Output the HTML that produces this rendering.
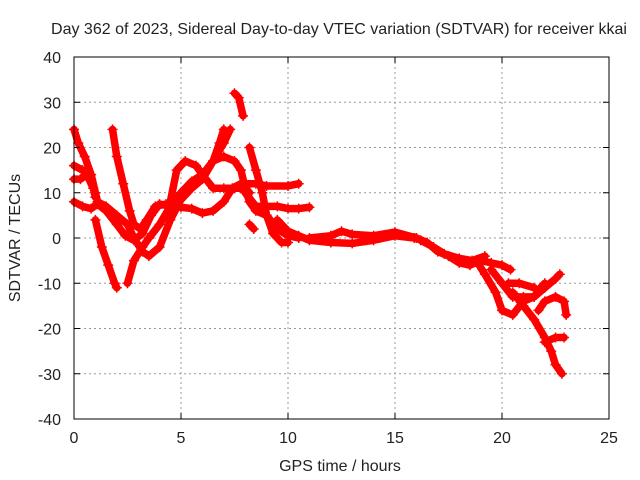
<!DOCTYPE html>
<html><head><meta charset="utf-8"><style>
body{margin:0;background:#fff}
svg{display:block;font-family:"Liberation Sans",sans-serif}
</style></head><body>
<svg id="chart" width="640" height="480" viewBox="0 0 640 480">
<rect width="640" height="480" fill="#fff"/>
<text x="339" y="34" font-size="16" text-anchor="middle" fill="#222">Day 362 of 2023, Sidereal Day-to-day VTEC variation (SDTVAR) for receiver kkai</text>
<g id="grid"></g>
<g id="series"></g>
<rect x="74" y="57" width="535" height="362" fill="none" stroke="#000" stroke-width="1"/>
<g id="ticks"></g>
<text x="340" y="471" font-size="16" text-anchor="middle" fill="#222">GPS time / hours</text>
<text transform="translate(20,238) rotate(-90)" font-size="16" text-anchor="middle" fill="#222">SDTVAR / TECUs</text>
</svg>
<script>
const xTicks=[0,5,10,15,20,25];
const yTicks=[-40,-30,-20,-10,0,10,20,30,40];
const track1=[[0,24],[0.2,21],[0.5,18],[0.8,14],[1,10],[1.1,8]];
const track2=[[0,13],[0.3,13],[0.6,14],[0.9,11],[1,9]];
const track3=[[0,16],[0.4,15],[0.8,13]];
const track4=[[0,8],[0.4,7],[0.8,6.5],[1.1,7.5],[1.5,6],[2,3],[2.4,0.5],[2.8,-0.5],[3.2,1],[3.6,5],[4,7.5],[4.5,7],[5,6.8],[5.5,6.5],[6,5.5],[6.5,6],[7,8],[7.4,11],[7.8,12],[8.5,12],[9,11.5],[10,11.5],[10.5,12]];
const track5=[[1.1,8],[1.5,7],[2,5],[2.5,3],[2.8,0],[3.2,-3],[3.5,-4],[4,-2],[4.5,4],[5,8.5],[5.5,11],[6,13],[6.5,17],[6.8,21],[7,24]];
const track6=[[1.8,24],[2,18],[2.3,12],[2.6,6],[2.8,3],[3.1,2],[3.4,4],[3.8,7],[4.3,7.5]];
const track7=[[1,4],[1.3,-2],[1.6,-6],[1.9,-10],[2,-11]];
const track8=[[2.5,-10],[2.8,-5],[3.2,-2],[3.5,0],[4,3],[4.5,7],[5,10],[5.5,12.5],[6,14],[6.5,17],[7,21],[7.3,24]];
const track9=[[4.5,8],[4.8,15],[5.2,17],[5.7,16],[6,14],[6.5,11],[7,11],[7.5,11],[8,11],[8.2,10]];
const track10=[[7.5,32],[7.7,31],[7.9,27]];
const track11=[[6.5,17],[7,18],[7.5,17],[7.8,15],[8,11],[8.2,8],[8.5,6],[9,5],[9.5,2],[10,0.5],[10.5,0]];
const track12=[[8.2,20],[8.5,15],[8.8,10],[9,5],[9.3,1],[9.7,-1],[10,-1]];
const track13=[[8,10],[8.5,7],[9,7],[9.5,7],[10,6.5],[10.5,6.5],[11,6.8]];
const track14=[[8.2,3],[8.4,2]];
const track15=[[9.5,4],[10,1.5],[10.5,0.5],[11,-0.5],[12,-1],[13,-1.2],[14,-0.5],[15,0.5],[15.9,0]];
const track16=[[11,0],[12,0.5],[12.5,1.5],[13,0.8],[14,0.5],[15,1.3],[16,0]];
const track17=[[16,0],[16.5,-1],[17,-3],[17.5,-4],[18,-5.5],[18.5,-6],[19,-5],[19.5,-5.5],[20,-6],[20.4,-7]];
const track18=[[18.8,-5],[19.2,-8],[19.7,-12],[20,-16],[20.5,-17],[21,-14],[21.5,-13],[22,-11],[22.5,-9],[22.7,-8]];
const track19=[[19.5,-7],[20,-10],[20.5,-13],[21,-13],[21.5,-13],[21.8,-11],[22,-10]];
const track20=[[20.5,-12],[21,-15],[21.5,-18],[22,-22],[22.3,-25],[22.5,-28],[22.8,-30]];
const track21=[[21.7,-16],[22,-14],[22.5,-13],[22.9,-14],[23,-17]];
const track22=[[22,-23],[22.5,-22],[22.9,-22]];
const track23=[[20.3,-10],[20.8,-10],[21.5,-11]];
const track24=[[16.2,-0.5],[16.8,-2],[17.3,-3.5],[18,-4.5],[18.6,-5],[19.2,-4]];
const tracks=[track1,track2,track3,track4,track5,track6,track7,track8,track9,track10,track11,track12,track13,track14,track15,track16,track17,track18,track19,track20,track21,track22,track23,track24];

const NS="http://www.w3.org/2000/svg";
const X0=74,X1=609,Y0=419,Y1=57;
function sx(t){return X0+(t-0)/(25-0)*(X1-X0);}
function sy(v){return Y0-(v+40)/80*(Y0-Y1);}
const grid=document.getElementById('grid'),ticks=document.getElementById('ticks'),series=document.getElementById('series');
function mk(tag,attrs,parent){const e=document.createElementNS(NS,tag);for(const k in attrs)e.setAttribute(k,attrs[k]);parent.appendChild(e);return e;}
xTicks.forEach(t=>{
  const x=sx(t);
  if(t>0&&t<25){const g=mk('line',{x1:x,x2:x,y1:Y1,y2:Y0,stroke:'#999','stroke-dasharray':'2,3'},grid);
  
  }
  const tk=mk('path',{d:`M${x},${Y0}v-6M${x},${Y1}v6`,stroke:'#000'},ticks);
  
  
  const lb=mk('text',{x:x,y:443,'font-size':16,'text-anchor':'middle',fill:'#222'},ticks);
  lb.textContent=t;
  
  
});
yTicks.forEach(v=>{
  const y=sy(v);
  if(v>-40&&v<40){const g=mk('line',{x1:X0,x2:X1,y1:y,y2:y,stroke:'#999','stroke-dasharray':'2,3'},grid);
  
  }
  const tk=mk('path',{d:`M${X0},${y}h6M${X1},${y}h-6`,stroke:'#000'},ticks);
  
  
  const lb=mk('text',{x:61,y:y+6,'font-size':16,'text-anchor':'end',fill:'#222'},ticks);
  lb.textContent=v;
  
  
});
tracks.forEach((tr,i)=>{
  const pl=mk('polyline',{points:tr.map(p=>sx(p[0])+','+sy(p[1])).join(' '),fill:'none',stroke:'#f00','stroke-width':7.5,'stroke-linejoin':'round','stroke-linecap':'round'},series);
  
  
  tr.forEach(p=>{
    const m=mk('path',{d:`M${sx(p[0])-5},${sy(p[1])}h10M${sx(p[0])},${sy(p[1])-5}v10`,stroke:'#f00','stroke-width':1.5},series);
    
    
  });
});
</script>
</body></html>
